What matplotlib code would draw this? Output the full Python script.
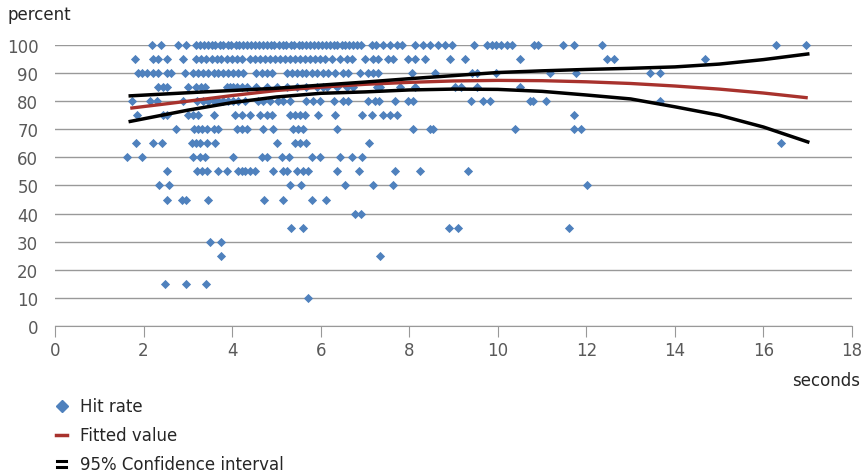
import numpy as np
import matplotlib.pyplot as plt
from matplotlib.lines import Line2D

plt.rcParams['font.family'] = ['DejaVu Sans']

# hit rate (percent) per response time (seconds), grouped by level
hits = {
    100: [2.20, 2.39, 2.78, 2.97, 3.18, 3.27, 3.36, 3.45, 3.55, 3.62, 3.72, 3.80, 3.90,
          3.98, 4.08, 4.15, 4.25, 4.33, 4.43, 4.52, 4.60, 4.70, 4.78, 4.88, 4.95, 5.05,
          5.14, 5.22, 5.32, 5.40, 5.50, 5.58, 5.68, 5.76, 5.85, 5.94, 6.03, 6.12, 6.20,
          6.30, 6.38, 6.48, 6.56, 6.65, 6.74, 6.83, 6.92, 7.15, 7.26, 7.41, 7.57, 7.72,
          7.83, 8.13, 8.31, 8.47, 8.65, 8.81, 8.96, 9.47, 9.75, 9.86, 9.97, 10.08, 10.20,
          10.33, 10.82, 10.91, 11.47, 11.71, 12.35, 16.28, 16.97],
    95: [1.81, 2.21, 2.32, 2.52, 2.88, 3.18, 3.30, 3.41, 3.54, 3.65, 3.76, 3.88, 3.99,
         4.10, 4.22, 4.40, 4.52, 4.63, 4.74, 4.86, 4.97, 5.08, 5.19, 5.31, 5.42, 5.53,
         5.65, 5.76, 5.87, 5.98, 6.10, 6.25, 6.44, 6.59, 6.70, 7.00, 7.19, 7.30, 7.53,
         7.64, 7.98, 8.13, 8.36, 8.92, 9.26, 10.50, 12.46, 12.62, 14.69],
    90: [1.87, 1.96, 2.07, 2.22, 2.33, 2.54, 2.63, 2.94, 3.12, 3.24, 3.35, 3.46, 3.58,
         3.69, 3.80, 3.91, 4.03, 4.14, 4.25, 4.55, 4.67, 4.78, 4.89, 5.23, 5.35, 5.46,
         5.57, 5.68, 5.80, 5.91, 6.06, 6.17, 6.32, 6.51, 6.62, 6.89, 7.08, 7.19, 7.30,
         8.06, 8.58, 9.42, 9.53, 9.96, 11.18, 11.76, 13.44, 13.67],
    85: [2.33, 2.43, 2.54, 3.01, 3.18, 3.29, 3.39, 3.88, 3.95, 4.03, 4.10, 4.22, 4.33,
         4.55, 4.78, 5.01, 5.23, 5.46, 5.68, 5.91, 6.06, 6.14, 6.36, 6.59, 6.74, 7.27,
         7.34, 7.79, 8.13, 9.03, 9.18, 9.52, 10.50],
    80: [1.73, 2.15, 2.30, 2.90, 3.20, 3.35, 3.46, 3.58, 3.69, 3.80, 3.91, 4.03, 4.14,
         4.29, 4.59, 4.70, 4.86, 5.04, 5.16, 5.31, 5.68, 5.83, 5.98, 6.29, 6.51, 6.62,
         7.08, 7.23, 7.32, 7.68, 7.98, 8.08, 9.39, 9.67, 9.82, 10.73, 10.80, 11.10, 13.66],
    75: [1.85, 2.45, 2.54, 3.01, 3.12, 3.24, 3.58, 4.07, 4.22, 4.40, 4.63, 4.78, 4.89,
         5.31, 5.42, 5.53, 5.65, 5.95, 6.32, 6.93, 7.15, 7.41, 7.57, 7.72, 11.71],
    70: [2.73, 3.14, 3.24, 3.33, 3.44, 3.58, 3.69, 4.10, 4.22, 4.33, 4.69, 4.92, 5.38,
         5.49, 5.61, 6.36, 8.09, 8.47, 8.54, 10.39, 11.72, 11.89],
    65: [1.83, 2.22, 2.41, 3.09, 3.18, 3.27, 3.43, 3.61, 5.01, 5.42, 5.53, 5.68, 7.10, 16.39],
    60: [1.62, 1.96, 3.12, 3.27, 3.39, 4.01, 4.67, 4.78, 5.12, 5.29, 5.80, 5.98, 6.44,
         6.70, 6.93],
    55: [2.54, 3.20, 3.31, 3.43, 3.69, 3.88, 4.14, 4.22, 4.29, 4.40, 4.52, 4.93, 5.16,
         5.23, 5.46, 5.61, 5.72, 6.36, 6.87, 7.68, 8.24, 9.33],
    50: [2.36, 2.57, 5.31, 5.55, 6.55, 7.19, 7.63, 12.01],
    45: [2.54, 2.86, 2.96, 3.46, 4.72, 5.14, 5.80, 6.12],
    40: [6.78, 6.91],
    35: [5.34, 5.60, 8.90, 9.11, 11.61],
    30: [3.50, 3.75],
    25: [3.75, 7.34],
    15: [2.48, 2.97, 3.40],
    10: [5.71],
}

# fitted curve and 95% confidence band
fit_x = [1.7, 3, 4, 5, 6, 7, 8, 9, 10, 11, 12, 13, 14, 15, 16, 17]
fit_y = [77.5, 80.0, 82.0, 83.8, 85.0, 86.0, 86.7, 87.2, 87.4, 87.3, 86.9, 86.3, 85.4, 84.3, 82.9, 81.2]
ci_upper = [81.9, 83.0, 83.8, 84.6, 85.7, 86.8, 88.0, 89.1, 90.2, 90.8, 91.3, 91.7, 92.2, 93.2, 94.8, 96.8]
ci_lower = [72.8, 76.8, 79.5, 81.5, 82.8, 83.3, 84.0, 84.3, 84.2, 83.5, 82.2, 80.8, 78.0, 75.0, 70.8, 65.5]

xs, ys = [], []
for level, secs in hits.items():
    xs += secs
    ys += [level] * len(secs)

blue = '#4F81BD'
red = '#A8322D'
grey = '#595959'

fig = plt.figure(figsize=(8.63, 4.77), dpi=100)
ax = fig.add_axes([0.0637, 0.3145, 0.9236, 0.5891])

ax.scatter(xs, ys, marker='D', s=22, color=blue, linewidths=0, zorder=3, clip_on=False)
ax.plot(fit_x, fit_y, color=red, lw=2.4, zorder=4, solid_capstyle='butt')
ax.plot(fit_x, ci_upper, color='black', lw=2.5, zorder=4)
ax.plot(fit_x, ci_lower, color='black', lw=2.5, zorder=4)

ax.set_xlim(0, 18)
ax.set_ylim(0, 100)
ax.set_xticks(range(0, 19, 2))
ax.set_yticks(range(0, 101, 10))
ax.yaxis.grid(True, color='#999999', lw=1)
ax.set_axisbelow(True)
for s in ['top', 'right', 'left']:
    ax.spines[s].set_visible(False)
ax.spines['bottom'].set_color('#999999')
ax.tick_params(axis='y', length=0, pad=12, labelsize=12, labelcolor=grey)
ax.tick_params(axis='x', length=8, color='#999999', pad=3, labelsize=12, labelcolor=grey)

fig.text(0.009, 0.968, 'percent', fontsize=12, color='#262626', va='center', ha='left')
fig.text(0.997, 0.201, 'seconds', fontsize=12, color='#262626', va='center', ha='right')

# legend below the chart
fig.add_artist(Line2D([0.0718], [1 - 407 / 477], marker='D', ms=6, color=blue, lw=0))
fig.text(0.093, 1 - 407 / 477, 'Hit rate', fontsize=12, color='#262626', va='center')
fig.add_artist(Line2D([0.065, 0.078], [1 - 436 / 477] * 2, color=red, lw=2.5))
fig.text(0.093, 1 - 436 / 477, 'Fitted value', fontsize=12, color='#262626', va='center')
fig.add_artist(Line2D([0.066, 0.077], [1 - 462 / 477] * 2, color='black', lw=2.2))
fig.add_artist(Line2D([0.066, 0.077], [1 - 467.5 / 477] * 2, color='black', lw=2.2))
fig.text(0.093, 1 - 465 / 477, '95% Confidence interval', fontsize=12, color='#262626', va='center')

fig.savefig('out.png', dpi=100)
